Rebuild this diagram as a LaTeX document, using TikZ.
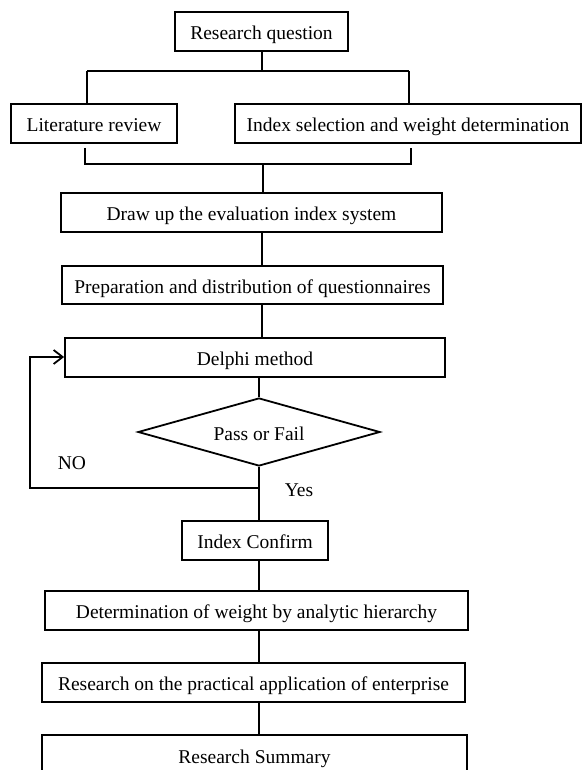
\documentclass[tikz,border=0pt]{standalone}
\usepackage{fontspec}
\setmainfont{Liberation Serif}
\usetikzlibrary{shapes.geometric,arrows.meta,calc}
\begin{document}
\begin{tikzpicture}[x=1pt,y=1pt,
  every node/.style={font=\fontsize{19.5}{23}\selectfont},
  box/.style={draw,line width=1.8pt,inner sep=0pt,minimum height=39pt,text height=17pt,text depth=1pt},
  conn/.style={line width=1.8pt},
  lbl/.style={inner sep=0pt}]
\useasboundingbox (0,0) rectangle (582,-770);
\node[box,minimum width=173pt] (rq) at (261.5,-31.5) {Research question};
\node[box,minimum width=166pt] (lit) at (94,-123.5) {Literature review};
\node[box,minimum width=346pt] (idx) at (408,-123.5) {Index selection and weight determination};
\node[box,minimum width=381pt] (dup) at (251.5,-212.5) {Draw up the evaluation index system};
\node[box,minimum width=381pt,minimum height=38pt] (prep) at (252.5,-285) {Preparation and distribution of questionnaires};
\node[box,minimum width=380pt] (del) at (255,-357.5) {Delphi method};
\node[draw,line width=1.8pt,shape=diamond,aspect=3.56,inner sep=0pt,minimum width=242pt,minimum height=68pt,text height=17pt,text depth=1pt] (dia) at (259,-432) {Pass or Fail};
\node[box,minimum width=146pt] (conf) at (255,-540.5) {Index Confirm};
\node[box,minimum width=423pt] (det) at (256.5,-610.5) {Determination of weight by analytic hierarchy};
\node[box,minimum width=423pt] (app) at (253.5,-682.5) {Research on the practical application of enterprise};
\node[box,minimum width=425pt,minimum height=40pt] (sum) at (254.5,-755) {Research Summary};
\node[lbl] (no) at (72,-463) {NO};
\node[lbl] (yes) at (299,-490) {Yes};
% top bracket
\coordinate (tb) at (262,-71);
\coordinate (tl) at (87,-71);
\coordinate (tr) at (409,-71);
\draw[conn] (rq.south -| tb) -- (tb);
\draw[conn] (tl) -- (tr);
\draw[conn] (tl) -- (tl |- lit.north);
\draw[conn] (tr) -- (tr |- idx.north);
% lower bracket
\coordinate (bl) at (85,-164);
\coordinate (br) at (411,-164);
\coordinate (bm) at (263,-164);
\draw[conn] (85,-148) -- (bl) -- (br) -- (411,-148);
\draw[conn] (bm) -- (bm |- dup.north);
% chain
\coordinate (c1) at (262,0);
\draw[conn] (dup.south -| c1) -- (prep.north -| c1);
\draw[conn] (prep.south -| c1) -- (del.north -| c1);
\draw[conn] (del.south -| dia.north) -- (dia.north);
\coordinate (lp) at (259,-488);
\draw[conn] (dia.south) -- (conf.north -| dia.south);
\draw[conn,-{Straight Barb[length=9pt,width=14pt,line width=1.8pt]}] (lp) -- (30,-488) -- (30,-357) -- (del.west |- 0,-357);
\coordinate (c2) at (259,0);
\draw[conn] (conf.south -| c2) -- (det.north -| c2);
\draw[conn] (det.south -| c2) -- (app.north -| c2);
\draw[conn] (app.south -| c2) -- (sum.north -| c2);
\end{tikzpicture}
\end{document}
